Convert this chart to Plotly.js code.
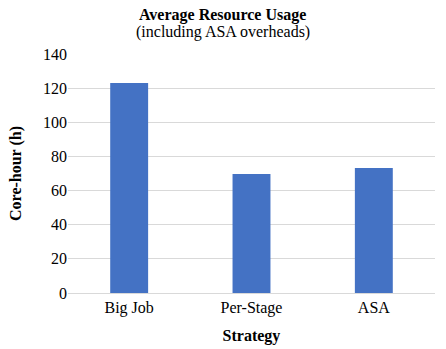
<!DOCTYPE html>
<html>
<head>
<meta charset="utf-8">
<script src="https://cdn.plot.ly/plotly-3.0.1.min.js"></script>
<style>
  html, body { margin: 0; padding: 0; background: #fff; }
  #chart { width: 446px; height: 349px; }
</style>
</head>
<body>
<div id="chart"></div>
<script>
"use strict"

let strategies = ['Big Job', 'Per-Stage', 'ASA'];
let coreHours = [123, 69.7, 73.2];
let yTicks = [0, 20, 40, 60, 80, 100, 120, 140];

let serif = 'Liberation Serif, Times New Roman, serif';

let trace = {
	type: 'bar',
	x: strategies,
	y: coreHours,
	width: 0.31,
	marker: {color: '#4472C4', line: {width: 0}},
	hoverinfo: 'x+y'
};

// title lines as annotations, centred on the whole picture like the reference
let titleLines = [
	{
		xref: 'paper', yref: 'paper',
		x: 0.422, y: 1.163,
		xanchor: 'center', yanchor: 'middle',
		text: '<b>Average Resource Usage</b>',
		showarrow: false,
		font: {family: serif, size: 16, color: '#000000'}
	},
	{
		xref: 'paper', yref: 'paper',
		x: 0.422, y: 1.094,
		xanchor: 'center', yanchor: 'middle',
		text: '(including ASA overheads)',
		showarrow: false,
		font: {family: serif, size: 16, color: '#000000'}
	}
];

let layout = {
	width: 446,
	height: 349,
	margin: {l: 68, r: 11, t: 54, b: 56},
	paper_bgcolor: '#ffffff',
	plot_bgcolor: '#ffffff',
	font: {family: serif, size: 16, color: '#000000'},
	showlegend: false,
	annotations: titleLines,
	xaxis: {
		title: {text: '<b>Strategy</b>', font: {family: serif, size: 16}, standoff: 13},
		showline: true,
		linecolor: '#d9d9d9',
		linewidth: 1,
		ticks: '',
		showgrid: false,
		tickfont: {family: serif, size: 16}
	},
	yaxis: {
		title: {text: '<b>Core-hour (h)</b>', font: {family: serif, size: 16}, standoff: 17},
		range: [0, 140],
		tickvals: yTicks,
		showgrid: true,
		gridcolor: '#d9d9d9',
		gridwidth: 1,
		zeroline: false,
		showline: false,
		ticks: '',
		tickfont: {family: serif, size: 16}
	}
};

Plotly.newPlot('chart', [trace], layout, {displayModeBar: false, staticPlot: true});
</script>
</body>
</html>
